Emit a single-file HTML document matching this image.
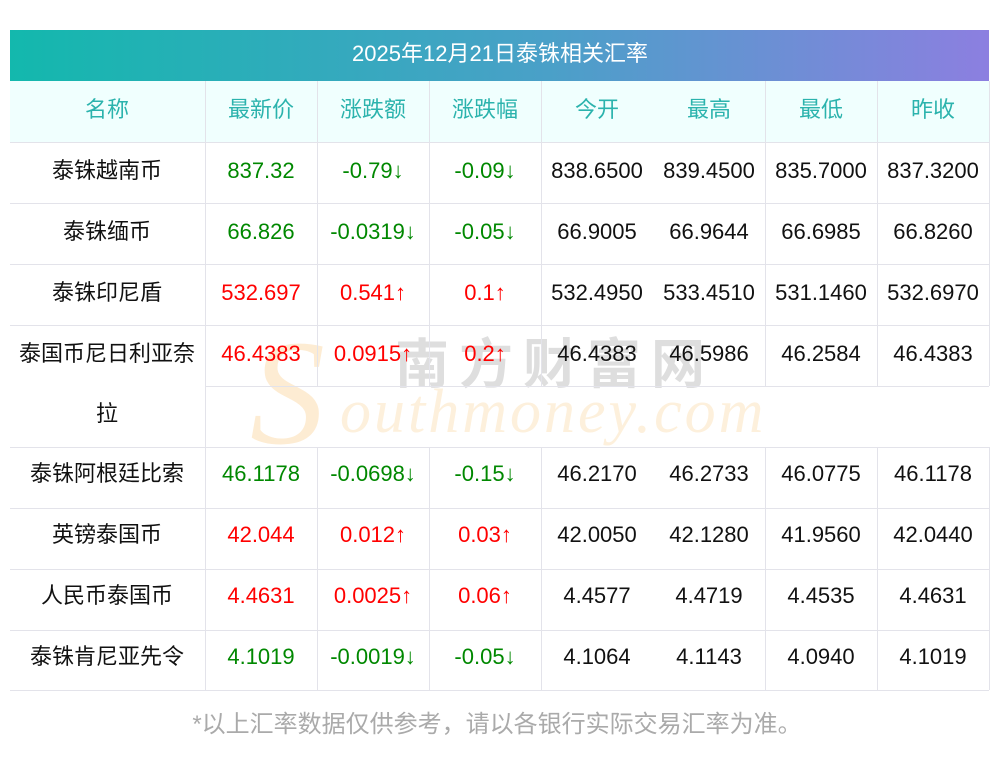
<!DOCTYPE html>
<html><head><meta charset="utf-8"><style>
body{margin:0;width:1000px;height:757px;background:#fff;position:relative;overflow:hidden;font-family:"Liberation Sans","Noto Sans CJK SC",sans-serif;}
.a{position:absolute}
.h{background:#e3e3ea}
.t{position:absolute;font-size:22px;text-align:center;line-height:24px;white-space:nowrap;transform:translateX(-50%)}
.g{color:#008800}.r{color:#ff0000}.k{color:#111}.c{color:#2bb3ad}
</style></head><body>
<div class="a" style="left:10px;top:30px;width:979px;height:51px;background:linear-gradient(90deg,#13b8ad,#4aa0c8 55%,#8c7fe0)"></div>
<div class="t" style="left:500px;top:42px;color:#fff">2025年12月21日泰铢相关汇率</div>
<div class="a" style="left:10px;top:81px;width:979px;height:61px;background:#f0fffe"></div>
<div class="a" style="left:250px;top:318px;font-family:'Liberation Serif',serif;font-style:italic;font-size:150px;line-height:150px;color:#fde9cc;opacity:.85">S</div>
<div class="a" style="left:395px;top:330px;font-family:'Noto Sans CJK SC',sans-serif;font-weight:bold;font-size:54px;line-height:60px;color:#dedede;letter-spacing:10px">南方财富网</div>
<div class="a" style="left:340px;top:380px;font-family:'Liberation Serif',serif;font-style:italic;font-size:62px;line-height:64px;color:#fdf0dc;letter-spacing:3px">outhmoney.com</div>
<div class="a h" style="left:10px;top:142px;width:979px;height:1px"></div>
<div class="a h" style="left:10px;top:203px;width:979px;height:1px"></div>
<div class="a h" style="left:10px;top:264px;width:979px;height:1px"></div>
<div class="a h" style="left:10px;top:325px;width:979px;height:1px"></div>
<div class="a h" style="left:205px;top:386px;width:784px;height:1px"></div>
<div class="a h" style="left:10px;top:447px;width:979px;height:1px"></div>
<div class="a h" style="left:10px;top:508px;width:979px;height:1px"></div>
<div class="a h" style="left:10px;top:569px;width:979px;height:1px"></div>
<div class="a h" style="left:10px;top:630px;width:979px;height:1px"></div>
<div class="a h" style="left:10px;top:690px;width:979px;height:1px"></div>
<div class="a h" style="left:205px;top:81px;width:1px;height:609px"></div>
<div class="a h" style="left:317px;top:81px;width:1px;height:305px"></div>
<div class="a h" style="left:317px;top:447px;width:1px;height:243px"></div>
<div class="a h" style="left:429px;top:81px;width:1px;height:305px"></div>
<div class="a h" style="left:429px;top:447px;width:1px;height:243px"></div>
<div class="a h" style="left:541px;top:81px;width:1px;height:305px"></div>
<div class="a h" style="left:541px;top:447px;width:1px;height:243px"></div>
<div class="a h" style="left:765px;top:81px;width:1px;height:305px"></div>
<div class="a h" style="left:765px;top:447px;width:1px;height:243px"></div>
<div class="a h" style="left:877px;top:81px;width:1px;height:305px"></div>
<div class="a h" style="left:877px;top:447px;width:1px;height:243px"></div>
<div class="a h" style="left:989px;top:81px;width:1px;height:305px"></div>
<div class="a h" style="left:989px;top:447px;width:1px;height:243px"></div>
<div class="t c" style="left:107px;top:98px">名称</div>
<div class="t c" style="left:261px;top:98px">最新价</div>
<div class="t c" style="left:373px;top:98px">涨跌额</div>
<div class="t c" style="left:485px;top:98px">涨跌幅</div>
<div class="t c" style="left:597px;top:98px">今开</div>
<div class="t c" style="left:709px;top:98px">最高</div>
<div class="t c" style="left:821px;top:98px">最低</div>
<div class="t c" style="left:933px;top:98px">昨收</div>
<div class="t k" style="left:107px;top:159px">泰铢越南币</div><div class="t g" style="left:261px;top:159px">837.32</div><div class="t g" style="left:373px;top:159px">-0.79↓</div><div class="t g" style="left:485px;top:159px">-0.09↓</div><div class="t k" style="left:597px;top:159px">838.6500</div><div class="t k" style="left:709px;top:159px">839.4500</div><div class="t k" style="left:821px;top:159px">835.7000</div><div class="t k" style="left:933px;top:159px">837.3200</div>
<div class="t k" style="left:107px;top:220px">泰铢缅币</div><div class="t g" style="left:261px;top:220px">66.826</div><div class="t g" style="left:373px;top:220px">-0.0319↓</div><div class="t g" style="left:485px;top:220px">-0.05↓</div><div class="t k" style="left:597px;top:220px">66.9005</div><div class="t k" style="left:709px;top:220px">66.9644</div><div class="t k" style="left:821px;top:220px">66.6985</div><div class="t k" style="left:933px;top:220px">66.8260</div>
<div class="t k" style="left:107px;top:281px">泰铢印尼盾</div><div class="t r" style="left:261px;top:281px">532.697</div><div class="t r" style="left:373px;top:281px">0.541↑</div><div class="t r" style="left:485px;top:281px">0.1↑</div><div class="t k" style="left:597px;top:281px">532.4950</div><div class="t k" style="left:709px;top:281px">533.4510</div><div class="t k" style="left:821px;top:281px">531.1460</div><div class="t k" style="left:933px;top:281px">532.6970</div>
<div class="t k" style="left:107px;top:342px">泰国币尼日利亚奈</div><div class="t k" style="left:107px;top:402px">拉</div><div class="t r" style="left:261px;top:342px">46.4383</div><div class="t r" style="left:373px;top:342px">0.0915↑</div><div class="t r" style="left:485px;top:342px">0.2↑</div><div class="t k" style="left:597px;top:342px">46.4383</div><div class="t k" style="left:709px;top:342px">46.5986</div><div class="t k" style="left:821px;top:342px">46.2584</div><div class="t k" style="left:933px;top:342px">46.4383</div>
<div class="t k" style="left:107px;top:462px">泰铢阿根廷比索</div><div class="t g" style="left:261px;top:462px">46.1178</div><div class="t g" style="left:373px;top:462px">-0.0698↓</div><div class="t g" style="left:485px;top:462px">-0.15↓</div><div class="t k" style="left:597px;top:462px">46.2170</div><div class="t k" style="left:709px;top:462px">46.2733</div><div class="t k" style="left:821px;top:462px">46.0775</div><div class="t k" style="left:933px;top:462px">46.1178</div>
<div class="t k" style="left:107px;top:523px">英镑泰国币</div><div class="t r" style="left:261px;top:523px">42.044</div><div class="t r" style="left:373px;top:523px">0.012↑</div><div class="t r" style="left:485px;top:523px">0.03↑</div><div class="t k" style="left:597px;top:523px">42.0050</div><div class="t k" style="left:709px;top:523px">42.1280</div><div class="t k" style="left:821px;top:523px">41.9560</div><div class="t k" style="left:933px;top:523px">42.0440</div>
<div class="t k" style="left:107px;top:584px">人民币泰国币</div><div class="t r" style="left:261px;top:584px">4.4631</div><div class="t r" style="left:373px;top:584px">0.0025↑</div><div class="t r" style="left:485px;top:584px">0.06↑</div><div class="t k" style="left:597px;top:584px">4.4577</div><div class="t k" style="left:709px;top:584px">4.4719</div><div class="t k" style="left:821px;top:584px">4.4535</div><div class="t k" style="left:933px;top:584px">4.4631</div>
<div class="t k" style="left:107px;top:645px">泰铢肯尼亚先令</div><div class="t g" style="left:261px;top:645px">4.1019</div><div class="t g" style="left:373px;top:645px">-0.0019↓</div><div class="t g" style="left:485px;top:645px">-0.05↓</div><div class="t k" style="left:597px;top:645px">4.1064</div><div class="t k" style="left:709px;top:645px">4.1143</div><div class="t k" style="left:821px;top:645px">4.0940</div><div class="t k" style="left:933px;top:645px">4.1019</div>
<div class="t" style="left:497px;top:713px;color:#aaa;font-size:24px">*以上汇率数据仅供参考，请以各银行实际交易汇率为准。</div>
</body></html>
